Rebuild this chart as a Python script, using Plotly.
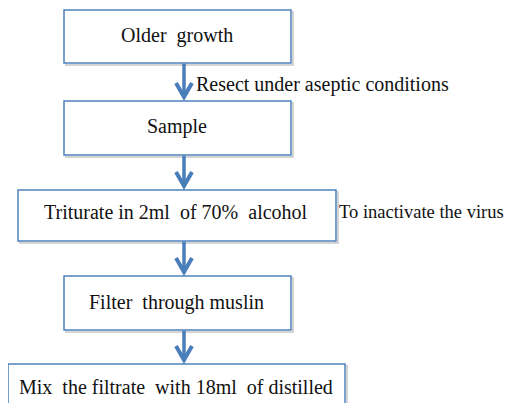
import plotly.graph_objects as go

# --- content ---
steps = [
    "Older  growth",
    "Sample",
    "Triturate in 2ml  of 70%  alcohol",
    "Filter  through muslin",
    "Mix  the filtrate  with 18ml  of distilled",
]
side_notes = [
    "Resect under aseptic conditions",
    None,
    "To inactivate the virus",
    None,
    None,
]
note_sizes = [20, None, 18.5, None, None]

# --- geometry (pixels in a 513x411 canvas) ---
box_x0 = [64, 64, 18, 64, 8]
box_x1 = [291, 291, 336, 291, 345]
box_y0 = [10, 101, 190, 276, 364]
box_y1 = [63, 155, 241, 330, 430]
text_y = [35, 126, 212, 302, 387]
arrow_x = 184
note_pos = [(194, 84), None, (337, 212), None, None]

BLUE = "#4f81bd"
ARROW = "#4a7ebb"
FONT = "Liberation Serif"
OFF = 8  # page body margin
W, H = 513, 411

fig = go.Figure()
fig.add_trace(go.Scatter(x=[OFF, W - OFF], y=[OFF, H - OFF], mode="markers",
                         marker=dict(opacity=0), hoverinfo="skip", showlegend=False))

shapes = []
for i in range(len(steps)):
    shapes.append(dict(type="rect", x0=box_x0[i] + 2, x1=box_x1[i] + 2,
                       y0=box_y0[i] + 2, y1=box_y1[i] + 2,
                       line=dict(color="#d4d4d4", width=2), fillcolor="#ffffff",
                       layer="below"))
    shapes.append(dict(type="rect", x0=box_x0[i], x1=box_x1[i],
                       y0=box_y0[i], y1=box_y1[i],
                       line=dict(color=BLUE, width=1.5), fillcolor="#ffffff",
                       layer="below"))

for i in range(len(steps) - 1):
    ya = box_y1[i] + 0.5
    yb = box_y0[i + 1] - 1
    shapes.append(dict(type="line", x0=arrow_x, x1=arrow_x, y0=ya, y1=yb - 2,
                       line=dict(color=ARROW, width=3.5)))
    shapes.append(dict(type="path",
                       path=f"M {arrow_x-8} {yb-17} L {arrow_x} {yb-3} L {arrow_x+8} {yb-17}",
                       line=dict(color=ARROW, width=4)))

annotations = []
for i, s in enumerate(steps):
    annotations.append(dict(x=(box_x0[i] + box_x1[i]) / 2 - 1, y=text_y[i], text=s,
                            showarrow=False, xanchor="center", yanchor="middle",
                            font=dict(family=FONT, size=20, color="#111111")))
for i, n in enumerate(side_notes):
    if n:
        annotations.append(dict(x=note_pos[i][0], y=note_pos[i][1], text=n,
                                showarrow=False, xanchor="left", yanchor="middle",
                                font=dict(family=FONT, size=note_sizes[i], color="#111111")))

fig.update_layout(
    width=W - 2 * OFF, height=H - 2 * OFF,
    margin=dict(l=0, r=0, t=0, b=0),
    paper_bgcolor="white", plot_bgcolor="white",
    xaxis=dict(range=[OFF, W - OFF], visible=False, fixedrange=True),
    yaxis=dict(range=[H - OFF, OFF], visible=False, fixedrange=True),
    shapes=shapes, annotations=annotations,
    showlegend=False,
    font=dict(family=FONT),
)
fig.write_html("out.html")
